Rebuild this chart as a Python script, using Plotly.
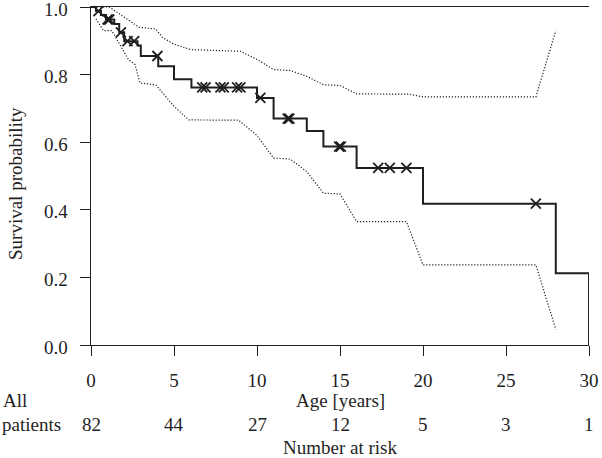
import numpy as np
import plotly.graph_objects as go

# Kaplan-Meier estimate (event times and survival after each event)
km_times = [0.0, 0.3, 0.6, 0.9, 1.4, 1.7, 2.0, 2.8, 3.0, 4.05, 5.0, 6.05, 10.0, 11.0, 13.0, 14.0, 16.0, 20.0, 28.0, 30.0]
km_surv = [1.0, 0.988, 0.976, 0.963, 0.950, 0.925, 0.899, 0.886, 0.855, 0.825, 0.786, 0.762, 0.731, 0.670, 0.633, 0.587, 0.524, 0.418, 0.212, 0.0]

# Censoring times
censor_times = [0.45, 1.0, 1.1, 1.8, 2.2, 2.6, 4.0, 6.7, 6.9, 7.8, 8.0, 8.8, 9.0, 10.2,
                11.85, 11.95, 14.95, 15.05, 17.3, 18.0, 19.0, 26.8]

# Pointwise confidence limits
ci_up_t = [0.0, 1.1, 2.9, 3.9, 4.3, 5.0, 6.0, 9.0, 10.0, 11.0, 12.0, 13.0, 14.0, 15.0, 16.0, 19.2, 20.0, 26.8, 28.0]
ci_up_v = [1.0, 1.0, 0.94, 0.935, 0.91, 0.89, 0.874, 0.869, 0.845, 0.815, 0.812, 0.795, 0.77, 0.768, 0.743, 0.742, 0.734, 0.734, 0.93]
ci_lo_t = [0.3, 0.75, 1.25, 1.65, 2.25, 2.65, 2.95, 3.9, 5.0, 5.9, 8.9, 10.0, 11.0, 12.0, 13.0, 14.0, 15.0, 16.0, 19.0, 20.0, 26.8, 28.0]
ci_lo_v = [0.965, 0.93, 0.93, 0.895, 0.845, 0.83, 0.775, 0.77, 0.706, 0.666, 0.665, 0.62, 0.553, 0.55, 0.513, 0.449, 0.447, 0.365, 0.365, 0.237, 0.237, 0.046]

# Number at risk table
risk_times = [0, 5, 10, 15, 20, 25, 30]
risk_counts = [82, 44, 27, 12, 5, 3, 1]

x_ticks = [0, 5, 10, 15, 20, 25, 30]
y_ticks = [0.0, 0.2, 0.4, 0.6, 0.8, 1.0]
y_tick_text = ["0.0", "0.2", "0.4", "0.6", "0.8", "1.0"]

FONT = "Liberation Serif"
FS = 19
INK = "#1f1f1f"

# censor mark heights from step function
idx = np.searchsorted(np.array(km_times), np.array(censor_times), side="right") - 1
censor_surv = [km_surv[i] for i in idx]

DOT = "1.2px,1.8px"
fig = go.Figure()
fig.add_trace(go.Scatter(x=ci_up_t, y=ci_up_v, mode="lines",
                         line=dict(color=INK, width=1.2, dash=DOT), hoverinfo="skip"))
fig.add_trace(go.Scatter(x=ci_lo_t, y=ci_lo_v, mode="lines",
                         line=dict(color=INK, width=1.2, dash=DOT), hoverinfo="skip"))
fig.add_trace(go.Scatter(x=km_times, y=km_surv, mode="lines", line_shape="hv",
                         line=dict(color=INK, width=2)))
fig.add_trace(go.Scatter(x=censor_times, y=censor_surv, mode="markers",
                         marker=dict(symbol="x-thin", size=10, color=INK,
                                     line=dict(color=INK, width=1.8)),
                         cliponaxis=False))

L, R, T, B = 91, 13, 7, 113
W, H = 602, 458
pw, ph = W - L - R, H - T - B

def px(xp):
    return (xp - L) / pw

def py(yp):
    return (H - B - yp) / ph

annotations = []
for v, s in zip(y_ticks, y_tick_text):
    annotations.append(dict(x=px(70), y=v, xref="paper", yref="y", text=s,
                            showarrow=False, xanchor="right", yanchor="middle", yshift=-1.5,
                            height=14, valign="middle"))
for t, c in zip(risk_times, risk_counts):
    annotations.append(dict(x=t, y=py(425), xref="x", yref="paper", text=str(c),
                            showarrow=False, xanchor="center", yanchor="middle"))
annotations += [
    dict(x=px(1), y=py(400), xref="paper", yref="paper", text="All", showarrow=False,
         xanchor="left", yanchor="middle"),
    dict(x=px(0), y=py(425), xref="paper", yref="paper", text="patients", showarrow=False,
         xanchor="left", yanchor="middle"),
    dict(x=15, y=py(400), xref="x", yref="paper", text="Age [years]", showarrow=False,
         xanchor="center", yanchor="middle"),
    dict(x=15, y=py(447), xref="x", yref="paper", text="Number at risk", showarrow=False,
         xanchor="center", yanchor="middle", height=14, valign="middle"),
    dict(x=px(15), y=py(184), xref="paper", yref="paper", text="Survival probability",
         showarrow=False, textangle=-90, xanchor="center", yanchor="middle"),
]

fig.update_layout(
    width=W, height=H, margin=dict(l=L, r=R, t=T, b=B, autoexpand=False),
    paper_bgcolor="white", plot_bgcolor="white", showlegend=False,
    font=dict(family=FONT, size=FS, color=INK),
    annotations=annotations,
    xaxis=dict(range=[0, 30], tickvals=x_ticks, ticktext=[str(v) for v in x_ticks],
               showgrid=False, zeroline=False, showline=True, linecolor=INK, linewidth=1.3,
               mirror=True, ticks="outside", ticklen=10, tickwidth=1.3, tickcolor=INK,
               ticklabelstandoff=8, ticklabeloverflow="allow", automargin=False),
    yaxis=dict(range=[0, 1], tickvals=y_ticks, showticklabels=False,
               showgrid=False, zeroline=False, showline=True, linecolor=INK, linewidth=1.3,
               ticks="outside", ticklen=10, tickwidth=1.3, tickcolor=INK,
               automargin=False),
)

fig.write_html("out.html", config={"displayModeBar": False},
               post_script="document.body.style.margin='0';document.body.style.overflow='hidden';")
